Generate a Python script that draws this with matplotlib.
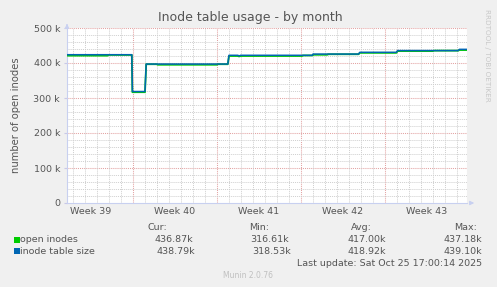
import numpy as np
import matplotlib.pyplot as plt
from matplotlib.ticker import FixedLocator

# time axis in days from Monday Sep 22 2025 (start of week 39)
week_labels = ["Week 39", "Week 40", "Week 41", "Week 42", "Week 43"]
week_starts = [0, 7, 14, 21, 28]

# inode table size: (start day, end day, value in thousands)
size_segments = [
    (1.5, 6.9, 423.7),
    (6.95, 8.0, 318.5),
    (8.1, 14.9, 397.0),
    (15.0, 15.75, 422.0),
    (15.8, 15.9, 420.5),
    (15.95, 21.95, 422.0),
    (22.0, 25.8, 425.5),
    (25.9, 28.95, 430.5),
    (29.05, 34.1, 435.5),
    (34.2, 34.85, 439.0),
]
# open inodes
open_segments = [
    (1.5, 4.9, 421.0),
    (4.95, 6.9, 423.0),
    (6.95, 8.0, 316.6),
    (8.1, 9.0, 396.5),
    (9.05, 14.0, 395.0),
    (14.05, 14.9, 396.5),
    (15.0, 15.75, 420.0),
    (15.8, 15.9, 419.0),
    (15.95, 21.1, 420.0),
    (21.15, 21.95, 421.5),
    (22.0, 23.2, 423.5),
    (23.25, 25.8, 425.0),
    (25.9, 28.95, 429.0),
    (29.05, 32.0, 434.0),
    (32.05, 34.1, 435.3),
    (34.2, 34.85, 437.0),
]

legend_names = ["open inodes", "inode table size"]
legend_colors = ["#00CC00", "#0066B3"]
cur_vals = ["436.87k", "438.79k"]
min_vals = ["316.61k", "318.53k"]
avg_vals = ["417.00k", "418.92k"]
max_vals = ["437.18k", "439.10k"]


def to_xy(segs):
    xs, ys = [], []
    for a, b, v in segs:
        xs += [a, b]
        ys += [v * 1000, v * 1000]
    return xs, ys


W, H = 497, 287
fig = plt.figure(figsize=(W / 100, H / 100), dpi=100)
fig.patch.set_facecolor("#F0F0F0")

left, right, top, bottom = 67, 467, 28, 203
ax = fig.add_axes([left / W, 1 - bottom / H, (right - left) / W, (bottom - top) / H])
ax.set_facecolor("white")

x0 = 1.5
x1 = x0 + (right - left) / 12.0
ax.set_xlim(x0, x1)
ax.set_ylim(0, 500000)

# grid: grey dotted every day / 20k, pink dotted every week / 100k
dots = (0, (1.0, 1.0))
day_lines = [d for d in range(2, 35) if d % 7 != 0]
k20_lines = [v for v in range(20000, 500000, 20000) if v % 100000 != 0]
ax.xaxis.set_minor_locator(FixedLocator(day_lines))
ax.yaxis.set_minor_locator(FixedLocator(k20_lines))
ax.set_yticks([0, 100000, 200000, 300000, 400000, 500000])
ax.set_yticklabels(["0", "100 k", "200 k", "300 k", "400 k", "500 k"])
ax.grid(which="minor", color="#CFCFCF", linestyle=dots, linewidth=0.7)
for wk in week_starts[1:]:
    ax.axvline(wk, color="#E3A3A3", linestyle=dots, linewidth=0.75, zorder=1)
for yv in [100000, 200000, 300000, 400000, 500000]:
    ax.axhline(yv, color="#E3A3A3", linestyle=dots, linewidth=0.75, zorder=1)
ax.axvline(x1 - 0.02, color="#E3A3A3", linestyle=dots, linewidth=0.75, zorder=1)

# week labels centred in the middle of each week
ax.set_xticks([w + 3.5 for w in week_starts])
ax.set_xticklabels(week_labels)
ax.tick_params(axis="x", which="both", length=0, labelsize=6.8, colors="#555555", pad=3)
ax.tick_params(axis="y", which="major", length=2, labelsize=6.8, colors="#555555",
               pad=3, color="#C8C8E8")
ax.tick_params(axis="y", which="minor", length=0)

for s in ["top", "right"]:
    ax.spines[s].set_visible(False)
for s in ["left", "bottom"]:
    ax.spines[s].set_color("#C8D0F0")
    ax.spines[s].set_linewidth(0.8)

# arrows on axes
ax.annotate("", xy=(0, 1.04), xytext=(0, 1.0), xycoords="axes fraction",
            arrowprops=dict(arrowstyle="-|>", color="#C8D0F0", lw=0.8, mutation_scale=6),
            annotation_clip=False)
ax.annotate("", xy=(1.025, 0), xytext=(1.0, 0), xycoords="axes fraction",
            arrowprops=dict(arrowstyle="-|>", color="#C8D0F0", lw=0.8, mutation_scale=6),
            annotation_clip=False)

gx, gy = to_xy(open_segments)
bx, by = to_xy(size_segments)
ax.plot(gx, gy, color=legend_colors[0], linewidth=1.3, zorder=3)
ax.plot(bx, by, color=legend_colors[1], linewidth=1.1, zorder=4)

ax.set_ylabel("number of open inodes", fontsize=7.2, color="#555555", labelpad=9)

fig.text(250 / W, 1 - 18 / H, "Inode table usage - by month", ha="center", va="center",
         fontsize=9, color="#555555")
fig.text(487 / W, 1 - 55 / H, "RRDTOOL / TOBI OETIKER", rotation=270, ha="center",
         va="center", fontsize=5.2, color="#C8C8C8")

tc = "#555555"
fs = 6.8
fig.text(167 / W, 1 - 227 / H, "Cur:", ha="right", va="center", fontsize=fs, color=tc)
fig.text(269 / W, 1 - 227 / H, "Min:", ha="right", va="center", fontsize=fs, color=tc)
fig.text(372 / W, 1 - 227 / H, "Avg:", ha="right", va="center", fontsize=fs, color=tc)
fig.text(477 / W, 1 - 227 / H, "Max:", ha="right", va="center", fontsize=fs, color=tc)
rows_y = [240, 251.7]
for i in range(2):
    yy = 1 - rows_y[i] / H
    fig.patches.append(plt.Rectangle((14 / W, yy - 2.8 / H), 6 / W, 6 / H,
                                     transform=fig.transFigure, facecolor=legend_colors[i],
                                     edgecolor="none"))
    fig.text(20.5 / W, yy, legend_names[i], ha="left", va="center", fontsize=fs, color=tc)
    fig.text((193 + 2 * i) / W, yy, cur_vals[i], ha="right", va="center", fontsize=fs, color=tc)
    fig.text((289 + 2 * i) / W, yy, min_vals[i], ha="right", va="center", fontsize=fs, color=tc)
    fig.text(386 / W, yy, avg_vals[i], ha="right", va="center", fontsize=fs, color=tc)
    fig.text(482 / W, yy, max_vals[i], ha="right", va="center", fontsize=fs, color=tc)

fig.text(482 / W, 1 - 263 / H, "Last update: Sat Oct 25 17:00:14 2025", ha="right",
         va="center", fontsize=fs, color=tc)
fig.text(248 / W, 1 - 276 / H, "Munin 2.0.76", ha="center", va="center", fontsize=5.5,
         color="#C0C0C0")

fig.savefig("out.png", dpi=100, facecolor=fig.get_facecolor())
